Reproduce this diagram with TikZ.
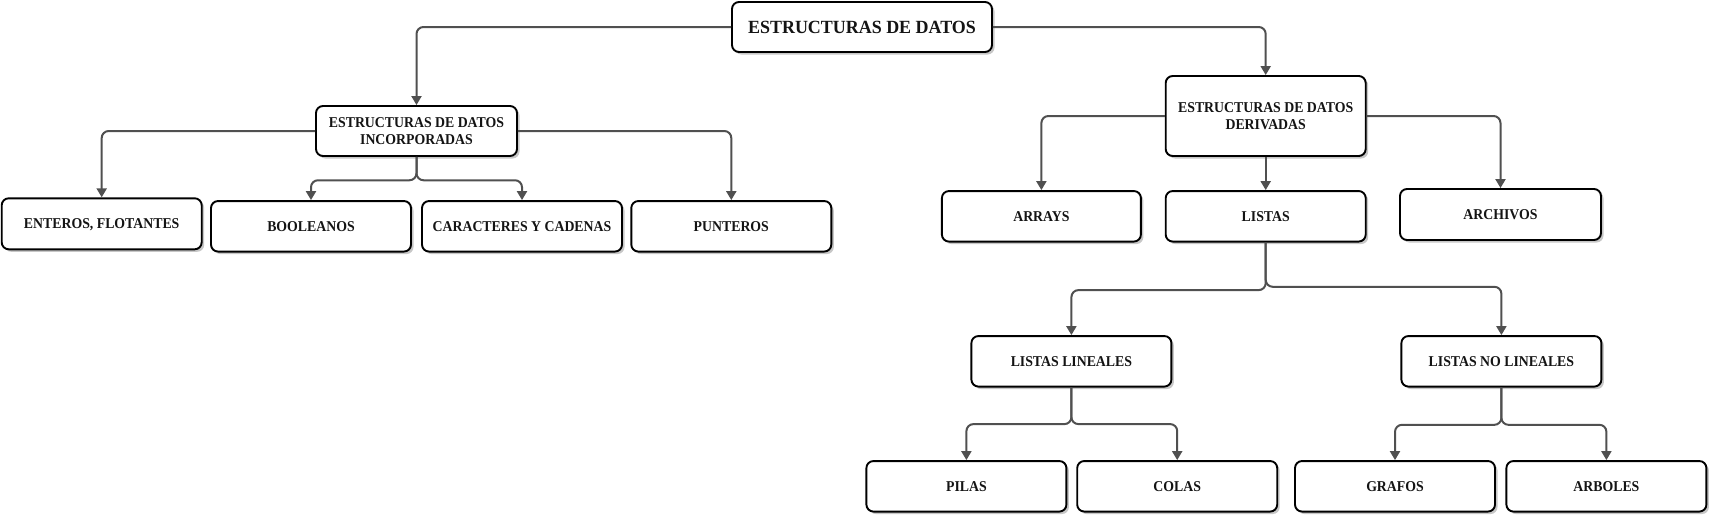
\documentclass[tikz,border=0pt]{standalone}
\usepackage{fontspec}
\setmainfont{Liberation Serif}
\newfontfamily\boxfont{Liberation Serif}[FakeStretch=0.92]
\newfontfamily\rootfont{Liberation Serif}[FakeStretch=0.965]
\usetikzlibrary{arrows.meta,shadows}
\definecolor{linegray}{HTML}{505050}
\definecolor{txt}{HTML}{141414}
\tikzset{
  box/.style={draw=black, line width=1.9pt, rounded corners=7pt, fill=white,
    minimum width=200pt, minimum height=50.5pt, inner sep=0pt, align=center,
    text=txt, font=\boxfont\fontsize{15}{16.7}\selectfont\bfseries, text depth=0pt,
    drop shadow={shadow xshift=2.5pt, shadow yshift=-2.5pt, fill=black, opacity=0.22}},
  conn/.style={draw=linegray, line width=2pt, rounded corners=7pt,
    -{Triangle[length=9pt,width=10pt]}},
}
\begin{document}
\begin{tikzpicture}[x=1pt,y=-1pt]
\useasboundingbox (0,0) rectangle (1709,515);
% nodes
\node[box, minimum width=260pt, minimum height=50pt, font=\rootfont\fontsize{18.6}{22}\selectfont\bfseries] (root) at (862,27) {ESTRUCTURAS DE DATOS};
\node[box, minimum width=201pt, minimum height=50pt] (inc) at (416.5,131) {ESTRUCTURAS DE DATOS\\INCORPORADAS};
\node[box, minimum height=80pt] (der) at (1265.7,116) {ESTRUCTURAS DE DATOS\\DERIVADAS};
\node[box, minimum height=51pt] (ent) at (101.7,223.8) {ENTEROS, FLOTANTES};
\node[box] (bool) at (311,226.3) {BOOLEANOS};
\node[box] (car) at (522,226.3) {CARACTERES Y CADENAS};
\node[box] (pun) at (731.3,226.3) {PUNTEROS};
\node[box, minimum width=199pt] (arr) at (1041.4,216.3) {ARRAYS};
\node[box] (lis) at (1265.7,216.3) {LISTAS};
\node[box, minimum width=201pt, minimum height=51pt] (arc) at (1500.5,214.5) {ARCHIVOS};
\node[box] (ll) at (1071.4,361.3) {LISTAS LINEALES};
\node[box] (lnl) at (1501.4,361.3) {LISTAS NO LINEALES};
\node[box] (pil) at (966.4,486.3) {PILAS};
\node[box] (col) at (1177.2,486.3) {COLAS};
\node[box] (gra) at (1395,486.3) {GRAFOS};
\node[box] (arb) at (1606.4,486.3) {ARBOLES};
% connectors
\draw[conn] (root.west) -| (inc.north);
\draw[conn] (root.east) -| (der.north);
\draw[conn] (inc.west) -| (ent.north);
\draw[conn] (inc.east) -| (pun.north);
\draw[conn] (inc.south) -- ++(0,23.3) -| (bool.north);
\draw[conn] (inc.south) -- ++(0,23.3) -| (car.north);
\draw[conn] (der.west) -| (arr.north);
\draw[conn] (der.east) -| (arc.north);
\draw[conn] (der.south) -- (lis.north);
\draw[conn] (lis.south) -- ++(0,47.6) -| (ll.north);
\draw[conn] (lis.south) -- ++(0,44.3) -| (lnl.north);
\draw[conn] (ll.south) -- ++(0,36.6) -| (pil.north);
\draw[conn] (ll.south) -- ++(0,36.6) -| (col.north);
\draw[conn] (lnl.south) -- ++(0,37.3) -| (gra.north);
\draw[conn] (lnl.south) -- ++(0,37.3) -| (arb.north);
\end{tikzpicture}
\end{document}
